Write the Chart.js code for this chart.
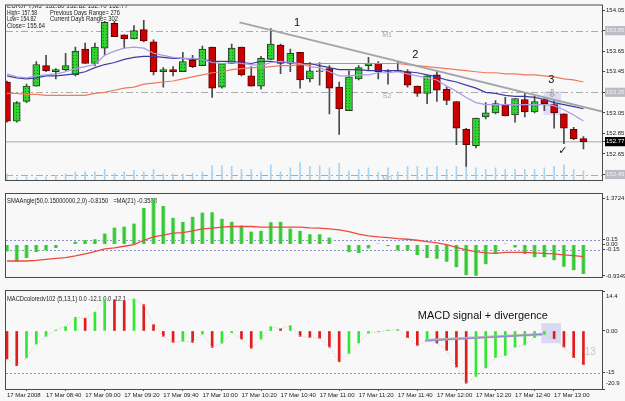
<!DOCTYPE html>
<html>
<head>
<meta charset="utf-8">
<script src="https://cdn.jsdelivr.net/npm/chart.js@4.4.1/dist/chart.umd.min.js"></script>
<style>
  html, body { margin: 0; padding: 0; background: #f8f8f8; }
  #wrap { position: relative; width: 625px; height: 401px; overflow: hidden; }
  #wrap canvas { position: absolute; left: 0; }
</style>
</head>
<body>
<div id="wrap">
  <canvas id="priceChart" width="625" height="193" style="top:0px"></canvas>
  <canvas id="angleChart" width="625" height="97" style="top:193px"></canvas>
  <canvas id="macdChart" width="625" height="111" style="top:290px"></canvas>
</div>
<script>
// M5 bars, 17 Mar 2008
const times = ['08:20','08:25','08:30','08:35','08:40','08:45','08:50','08:55',
  '09:00','09:05','09:10','09:15','09:20','09:25','09:30','09:35','09:40','09:45','09:50','09:55',
  '10:00','10:05','10:10','10:15','10:20','10:25','10:30','10:35','10:40','10:45','10:50','10:55',
  '11:00','11:05','11:10','11:15','11:20','11:25','11:30','11:35','11:40','11:45','11:50','11:55',
  '12:00','12:05','12:10','12:15','12:20','12:25','12:30','12:35','12:40','12:45','12:50','12:55',
  '13:00','13:05','13:10','13:15'];

const openP = [153.35,152.97,153.16,153.31,153.51,153.45,153.47,153.42,153.67,153.53,
  153.68,153.92,153.81,153.77,153.86,153.74,153.45,153.47,153.45,153.56,
  153.51,153.69,153.30,153.53,153.69,153.41,153.31,153.57,153.71,153.53,
  153.64,153.38,153.45,153.48,153.30,153.07,153.38,153.51,153.53,153.46,
  153.46,153.45,153.31,153.24,153.42,153.28,153.16,152.89,152.73,153.01,
  153.05,153.13,153.03,153.18,153.06,153.18,153.13,153.04,152.89,152.80];
const highP = [153.36,153.16,153.33,153.55,153.61,153.48,153.63,153.69,153.73,153.73,
  153.94,153.94,153.81,153.90,153.95,153.76,153.49,153.50,153.64,153.61,
  153.70,153.69,153.53,153.72,153.69,153.50,153.60,153.87,153.72,153.67,
  153.64,153.54,153.54,153.51,153.35,153.46,153.51,153.59,153.55,153.47,
  153.55,153.47,153.31,153.41,153.46,153.30,153.16,152.90,153.00,153.15,
  153.17,153.20,153.19,153.24,153.21,153.19,153.17,153.04,152.91,152.82];
const lowP = [152.96,152.96,153.15,153.31,153.45,153.38,153.46,153.41,153.53,153.51,
  153.61,153.79,153.68,153.77,153.74,153.42,153.30,153.41,153.45,153.49,
  153.51,153.20,153.29,153.53,153.41,153.31,153.28,153.57,153.43,153.45,
  153.29,153.35,153.32,153.04,152.84,153.07,153.37,153.46,153.38,153.33,
  153.45,153.30,153.21,153.14,153.16,153.13,152.74,152.53,152.71,152.99,
  153.04,153.02,152.96,153.01,153.05,153.07,152.90,152.75,152.79,152.70];
const closeP = [152.97,153.15,153.31,153.52,153.46,153.47,153.51,153.65,153.53,153.69,
  153.93,153.79,153.77,153.85,153.75,153.45,153.47,153.45,153.55,153.50,
  153.67,153.29,153.53,153.68,153.42,153.31,153.58,153.72,153.53,153.63,
  153.37,153.46,153.46,153.29,153.09,153.40,153.49,153.53,153.45,153.46,
  153.46,153.32,153.24,153.41,153.27,153.17,152.90,152.74,153.00,153.05,
  153.14,153.02,153.19,153.06,153.16,153.14,153.05,152.90,152.80,152.77];
const tickVolume = [20,7,10,7,10,15,20,27,27,27,35,22,27,32,27,35,20,20,20,22,
  27,47,47,45,35,35,27,50,27,40,57,45,47,40,55,30,35,40,27,40,
  27,45,45,40,45,35,45,65,40,35,40,35,35,35,35,40,45,50,35,30];

// moving averages on price
const maSlow = [153.24,153.24,153.23,153.23,153.22,153.22,153.22,153.22,153.22,153.24,
  153.25,153.27,153.29,153.30,153.33,153.34,153.35,153.36,153.38,153.40,
  153.42,153.44,153.45,153.47,153.48,153.49,153.49,153.50,153.51,153.51,
  153.52,153.52,153.53,153.53,153.53,153.53,153.53,153.53,153.53,153.53,
  153.53,153.52,153.51,153.50,153.49,153.48,153.47,153.46,153.45,153.44,
  153.44,153.43,153.43,153.42,153.42,153.41,153.40,153.38,153.37,153.35];
const maMid = [153.41,153.39,153.38,153.39,153.41,153.41,153.42,153.43,153.45,153.49,
  153.52,153.54,153.57,153.59,153.60,153.60,153.59,153.58,153.58,153.57,
  153.57,153.55,153.55,153.55,153.54,153.53,153.55,153.55,153.54,153.54,
  153.53,153.53,153.51,153.49,153.47,153.47,153.47,153.46,153.46,153.46,
  153.46,153.45,153.44,153.42,153.40,153.37,153.35,153.32,153.29,153.25,
  153.24,153.22,153.21,153.21,153.20,153.18,153.15,153.13,153.11,153.09];
const maFast = [153.43,153.40,153.39,153.41,153.42,153.43,153.45,153.48,153.50,153.52,
  153.61,153.65,153.68,153.69,153.68,153.63,153.61,153.59,153.58,153.58,
  153.57,153.54,153.53,153.54,153.53,153.52,153.51,153.54,153.55,153.54,
  153.53,153.50,153.49,153.45,153.41,153.41,153.42,153.42,153.44,153.44,
  153.45,153.43,153.41,153.39,153.37,153.31,153.26,153.20,153.15,153.13,
  153.13,153.13,153.13,153.13,153.13,153.13,153.12,153.08,153.03,152.97];

// SMAAngle indicator and its MA(21)
const angleVals = [-0.21,-0.51,-0.40,-0.22,-0.18,-0.10,0.02,0.09,0.14,0.16,
  0.33,0.51,0.54,0.63,1.09,1.3724,1.15,0.80,0.68,0.83,
  0.96,0.97,0.77,0.68,0.57,0.39,0.41,0.67,0.68,0.48,
  0.41,0.31,0.31,0.21,-0.02,-0.23,-0.25,-0.12,0.03,-0.05,
  -0.18,-0.18,-0.31,-0.40,-0.42,-0.51,-0.68,-0.92,-0.9349,-0.59,
  -0.28,0.03,-0.09,-0.28,-0.38,-0.38,-0.47,-0.66,-0.77,-0.88];
const angleMA = [-0.49,-0.49,-0.49,-0.47,-0.44,-0.41,-0.39,-0.34,-0.28,-0.21,
  -0.13,-0.10,-0.05,0.00,0.13,0.23,0.28,0.34,0.36,0.41,
  0.47,0.49,0.52,0.54,0.54,0.54,0.52,0.52,0.52,0.52,
  0.52,0.50,0.49,0.47,0.44,0.39,0.31,0.26,0.23,0.21,
  0.18,0.16,0.13,0.09,0.05,0.00,-0.08,-0.16,-0.21,-0.25,
  -0.26,-0.23,-0.23,-0.23,-0.25,-0.26,-0.28,-0.31,-0.33,-0.3588];

// MACDcoloredv102 (5,13,1)
const macdVals = [-10.1,-12.5,-9.7,-4.7,-1.9,0.3,1.6,4.9,4.6,6.7,
  11.5,11.3,10.9,11.5,9.5,2.3,-1.9,-4.1,-3.7,-4.1,
  -1.1,-5.9,-4.4,-0.6,-2.9,-6.2,-2.9,1.6,0.8,1.9,
  -1.9,-2.3,-2.6,-5.8,-11.1,-8.1,-4.3,-0.8,-0.3,0.3,
  0.5,-2.4,-5.2,-3.4,-4.4,-7.0,-13.0,-18.8,-16.4,-13.3,
  -9.6,-8.8,-5.8,-5.0,-2.4,-1.2,-2.8,-5.8,-9.6,-12.1];
const macdSignal = macdVals; // signal period 1

// axis ticks and levels
const priceTicks = [154.05,153.85,153.65,153.45,153.25,153.05,152.85,152.65,152.45];
const priceLevels = [153.85,153.25,152.45];
const priceLevelNames = ['M1','S2','M0'];
const bidPrice = 152.77;
const angleTicks = [1.3724,0.15,0,-0.15,-0.9349];
const angleTickText = ['1.3724','0.15','0.00','-0.15','-0.9349'];
const angleLevels = [0.15,-0.15];
const macdTicks = [14.4,0,-15,-20.9];
const macdTickText = [['','14.4'],'0.00','-15',['-20.9','']];
const macdLevels = [-15];
const timeTickIdx = [0,4,8,12,16,20,24,28,32,36,40,44,48,52,56];
const dateText = '17 Mar';
const firstTickText = '17 Mar 2008';

const FONT = "'Liberation Sans', Arial, sans-serif";
Chart.defaults.font.family = FONT;
Chart.defaults.animation = false;
Chart.defaults.responsive = false;
Chart.defaults.plugins.legend.display = false;
Chart.defaults.plugins.tooltip.enabled = false;

const X_MIN = -0.1, X_MAX = 60.9;
const idx = times.map((t, i) => i);
const same = (a, b) => Math.abs(a - b) < 1e-6;

// draws backgrounds, levels, notes and pane frames
const overlay = {
    id: 'overlay',
    beforeDraw(chart) {
        const ctx = chart.ctx;
        ctx.save();
        ctx.fillStyle = '#f8f8f8';
        ctx.fillRect(0, 0, chart.width, chart.height);
        ctx.restore();
    },
    beforeDatasetsDraw(chart, args, opts) {
        const {ctx, chartArea: a, scales} = chart;
        const xs = scales.x, ys = scales.y;
        ctx.save();
        ctx.beginPath();
        ctx.rect(a.left, a.top, a.width, a.height);
        ctx.clip();
        (opts.rects || []).forEach(r => {
            const x0 = xs.getPixelForValue(r.x0), x1 = xs.getPixelForValue(r.x1);
            const y0 = ys.getPixelForValue(r.y0), y1 = ys.getPixelForValue(r.y1);
            ctx.fillStyle = r.color;
            ctx.fillRect(x0, Math.min(y0, y1), x1 - x0, Math.abs(y1 - y0));
        });
        (opts.levels || []).forEach((v, k) => {
            const y = Math.round(ys.getPixelForValue(v)) + 0.5;
            ctx.strokeStyle = opts.levelColor;
            ctx.lineWidth = 1;
            ctx.setLineDash(opts.levelDash);
            ctx.beginPath();
            ctx.moveTo(a.left, y);
            ctx.lineTo(a.right, y);
            ctx.stroke();
            ctx.setLineDash([]);
            if (opts.levelNames) {
                ctx.fillStyle = '#a8a8a8';
                ctx.font = '7px ' + FONT;
                ctx.textAlign = 'center';
                ctx.textBaseline = 'middle';
                ctx.fillText(opts.levelNames[k], xs.getPixelForValue(opts.levelNameAt), y + 4);
            }
        });
        if (opts.bid !== undefined) {
            const y = ys.getPixelForValue(opts.bid);
            ctx.strokeStyle = '#b8c6c6';
            ctx.lineWidth = 1.5;
            ctx.beginPath();
            ctx.moveTo(a.left, y);
            ctx.lineTo(a.right, y);
            ctx.stroke();
        }
        ctx.fillStyle = '#1a1a1a';
        ctx.font = '7px ' + FONT;
        ctx.textAlign = 'left';
        ctx.textBaseline = 'middle';
        (opts.header || []).forEach(h => ctx.fillText(h.t, h.x, h.y, h.w));
        ctx.restore();
    },
    afterDatasetsDraw(chart, args, opts) {
        const {ctx, chartArea: a, scales} = chart;
        const xs = scales.x, ys = scales.y;
        ctx.save();
        ctx.beginPath();
        ctx.rect(a.left, a.top, a.width, a.height);
        ctx.clip();
        (opts.lines || []).forEach(l => {
            ctx.strokeStyle = l.color;
            ctx.lineWidth = l.width;
            ctx.beginPath();
            ctx.moveTo(xs.getPixelForValue(l.x0), ys.getPixelForValue(l.y0));
            ctx.lineTo(xs.getPixelForValue(l.x1), ys.getPixelForValue(l.y1));
            ctx.stroke();
        });
        (opts.notes || []).forEach(n => {
            ctx.fillStyle = n.color;
            ctx.font = n.font;
            ctx.textAlign = 'center';
            ctx.textBaseline = 'middle';
            ctx.fillText(n.t, xs.getPixelForValue(n.x), ys.getPixelForValue(n.y), n.w || 500);
        });
        ctx.restore();
    },
    afterDraw(chart) {
        const {ctx, chartArea: a} = chart;
        ctx.save();
        ctx.strokeStyle = '#4a4a4a';
        ctx.lineWidth = 1;
        ctx.strokeRect(a.left - 0.5, a.top - 0.5, a.width + 1, a.height + 1);
        ctx.restore();
    }
};

function xScale(show) {
    return {
        type: 'linear', min: X_MIN, max: X_MAX, offset: false, display: show,
        afterBuildTicks: s => { s.ticks = timeTickIdx.map(v => ({value: v})); },
        afterFit: s => { s.height = 12; s.paddingLeft = 0; s.paddingRight = 0; },
        border: {display: false},
        grid: {drawOnChartArea: false, tickLength: 2, color: '#555'},
        ticks: {
            autoSkip: false, maxRotation: 0, align: 'start', padding: 1,
            color: '#1a1a1a', font: {size: 6},
            callback: v => v === 0 ? firstTickText : dateText + ' ' + times[v]
        }
    };
}

function yScale(min, max, tickVals, label, lineHeight) {
    return {
        position: 'right', min: min, max: max,
        afterBuildTicks: s => { s.ticks = tickVals.map(v => ({value: v})); },
        afterFit: s => { s.width = 23; s.paddingTop = 0; s.paddingBottom = 0; },
        border: {display: false},
        grid: {drawOnChartArea: false, tickLength: 3, color: '#444'},
        ticks: {
            autoSkip: false, padding: 1, color: '#1a1a1a',
            font: {size: 6, lineHeight: lineHeight || 1.2}, callback: label
        }
    };
}

// green stipple for bull candles
function stipple(ctx) {
    const c = document.createElement('canvas');
    c.width = 3; c.height = 3;
    const g = c.getContext('2d');
    g.fillStyle = '#2fd62f'; g.fillRect(0, 0, 3, 3);
    g.fillStyle = '#178a17'; g.fillRect(1, 1, 1, 1);
    return ctx.createPattern(c, 'repeat');
}

// Price pane
function initializePriceChart() {
    const el = document.getElementById('priceChart');
    const bull = stipple(el.getContext('2d'));
    const priceY = yScale(152.3967, 154.0944, priceTicks.concat([bidPrice]), v => v.toFixed(2));
    priceY.ticks.showLabelBackdrop = c => same(c.tick.value, bidPrice) || priceLevels.some(l => same(l, c.tick.value));
    priceY.ticks.backdropColor = c => same(c.tick.value, bidPrice) ? '#000000' : '#bcbcc4';
    priceY.ticks.backdropPadding = {top: 1, bottom: 1, left: 1, right: 1};
    priceY.ticks.color = c => same(c.tick.value, bidPrice) ? '#ffffff'
        : (priceLevels.some(l => same(l, c.tick.value)) ? '#f2f2f2' : '#1a1a1a');

    new Chart(el, {
        type: 'bar',
        data: {
            datasets: [{
                label: 'Volume', yAxisID: 'yv', order: 9,
                data: idx.map(i => ({x: i, y: tickVolume[i]})),
                backgroundColor: '#a6d4f4', barThickness: 1, grouped: false
            }, {
                label: 'Wick', order: 6,
                data: idx.map(i => ({x: i, y: [lowP[i], highP[i]]})),
                backgroundColor: '#4a4a4a', barThickness: 1, grouped: false
            }, {
                label: 'Body', order: 5,
                data: idx.map(i => ({x: i, y: [openP[i], closeP[i]]})),
                backgroundColor: c => closeP[c.dataIndex] > openP[c.dataIndex] ? bull : '#cc0000',
                borderColor: c => closeP[c.dataIndex] > openP[c.dataIndex] ? '#2a3a2a' : '#5e0000',
                borderWidth: 1, borderSkipped: false, barThickness: 7, grouped: false
            }, {
                type: 'line', label: 'Doji', order: 4, showLine: false,
                data: idx.filter(i => same(openP[i], closeP[i])).map(i => ({x: i, y: openP[i]})),
                pointStyle: 'line', pointRadius: 3.5, pointBorderColor: '#222', pointBorderWidth: 1.5
            }, {
                type: 'line', label: 'MA slow', order: 3,
                data: idx.map(i => ({x: i, y: maSlow[i]})),
                borderColor: '#f07a5c', borderWidth: 1.2, pointRadius: 0
            }, {
                type: 'line', label: 'MA mid', order: 2,
                data: idx.map(i => ({x: i, y: maMid[i]})),
                borderColor: '#3c3ca0', borderWidth: 1.2, pointRadius: 0
            }, {
                type: 'line', label: 'MA fast', order: 1,
                data: idx.map(i => ({x: i, y: maFast[i]})),
                borderColor: '#a99ce4', borderWidth: 1.2, pointRadius: 0
            }]
        },
        options: {
            layout: {padding: {left: 6, top: 1, right: 0, bottom: 1}},
            scales: {
                x: xScale(false),
                y: priceY,
                yv: {display: false, min: 0, max: 573}
            },
            plugins: {
                overlay: {
                    header: [
                        {t: 'EURJPY,M5  152.80 152.82 152.70 152.77', x: 7, y: 6.5, w: 121},
                        {t: 'High= 157.58', x: 7, y: 13, w: 30},
                        {t: 'Previous Days Range= 276', x: 50, y: 13, w: 70},
                        {t: 'Low= 154.82', x: 7, y: 19.5, w: 29},
                        {t: 'Current Days Range= 302', x: 50, y: 19.5, w: 68},
                        {t: 'Close= 155.64', x: 7, y: 26, w: 38}
                    ],
                    levels: priceLevels, levelNames: priceLevelNames, levelNameAt: 38.9,
                    levelColor: '#ababab', levelDash: [7, 3, 2, 3],
                    bid: bidPrice,
                    rects: [{x0: 54.9, x1: 56.7, y0: 153.03, y1: 153.26, color: 'rgba(186,186,236,0.45)'}],
                    lines: [{x0: 23.8, y0: 153.93, x1: 61.5, y1: 153.05, color: '#a4a4ac', width: 2}],
                    notes: [
                        {t: '1', x: 29.7, y: 153.926, font: '11px ' + FONT, color: '#111'},
                        {t: '2', x: 41.8, y: 153.61, font: '11px ' + FONT, color: '#111'},
                        {t: '3', x: 55.7, y: 153.37, font: '11px ' + FONT, color: '#111'},
                        {t: '\u21E9', x: 55.8, y: 153.235, font: '11px "DejaVu Sans"', color: '#8a8a8a'},
                        {t: '\u2713', x: 56.9, y: 152.68, font: '11px "DejaVu Sans"', color: '#111'}
                    ]
                }
            }
        },
        plugins: [overlay]
    });
}

// SMAAngle pane
function initializeAngleChart() {
    new Chart(document.getElementById('angleChart'), {
        type: 'bar',
        data: {
            datasets: [{
                label: 'SMAAngle', order: 2,
                data: idx.map(i => ({x: i, y: angleVals[i]})),
                backgroundColor: '#35c935', borderColor: '#9be49b',
                borderWidth: {left: 1, right: 1, top: 0, bottom: 0}, borderSkipped: false,
                barThickness: 4, grouped: false
            }, {
                type: 'line', label: 'MA(21)', order: 1,
                data: idx.map(i => ({x: i, y: angleMA[i]})),
                borderColor: '#ec4a3a', borderWidth: 1.3, pointRadius: 0
            }]
        },
        options: {
            layout: {padding: {left: 6, top: 1, right: 0, bottom: 1}},
            scales: {
                x: xScale(false),
                y: yScale(-0.9687, 1.5117, angleTicks, (v, k) => angleTickText[k])
            },
            plugins: {
                overlay: {
                    header: [{t: 'SMAAngle(50,0.15000000,2,0) -0.8150   =MA(21) -0.3588', x: 7, y: 8, w: 150}],
                    levels: angleLevels, levelColor: '#8e8ec8', levelDash: [2, 2]
                }
            }
        },
        plugins: [overlay]
    });
}

// MACD pane
function initializeMacdChart() {
    new Chart(document.getElementById('macdChart'), {
        type: 'bar',
        data: {
            datasets: [{
                label: 'MACD', order: 2,
                data: idx.map(i => ({x: i, y: macdVals[i]})),
                backgroundColor: c => (c.dataIndex === 0 || macdVals[c.dataIndex] < macdVals[c.dataIndex - 1]) ? '#e01c1c' : '#30e830',
                barThickness: 2, grouped: false
            }, {
                type: 'line', label: 'Signal', order: 1,
                data: idx.map(i => ({x: i, y: macdSignal[i]})),
                borderColor: '#c4c4c4', borderWidth: 1, borderDash: [1, 2], pointRadius: 0
            }]
        },
        options: {
            layout: {padding: {left: 6, top: 1, right: 0, bottom: 0}},
            scales: {
                x: xScale(true),
                y: yScale(-20.9, 14.4, macdTicks, (v, k) => macdTickText[k], 1.9)
            },
            plugins: {
                overlay: {
                    header: [{t: 'MACDcoloredv102 (5,13,1) 0.0 -12.1 0.0 -12.1', x: 7, y: 9, w: 119}],
                    levels: macdLevels, levelColor: '#8e8ec8', levelDash: [2, 2],
                    rects: [{x0: 54.7, x1: 56.7, y0: 2.8, y1: -4.4, color: 'rgba(186,186,236,0.5)'}],
                    lines: [
                        {x0: 42.8, y0: -3.3, x1: 54.8, y1: -1.2, color: '#b0b0b0', width: 2.5},
                        {x0: 42.8, y0: -3.6, x1: 54.8, y1: -1.2, color: '#8a8ad8', width: 1}
                    ],
                    notes: [
                        {t: 'MACD signal + divergence', x: 48.7, y: 5.4, font: '11px ' + FONT, color: '#111', w: 130},
                        {t: '13', x: 59.7, y: -7.6, font: '10px ' + FONT, color: '#c4c4c4'}
                    ]
                }
            }
        },
        plugins: [overlay]
    });
}

function initializeCharts() {
    initializePriceChart();
    initializeAngleChart();
    initializeMacdChart();
}

initializeCharts();
</script>
</body>
</html>
